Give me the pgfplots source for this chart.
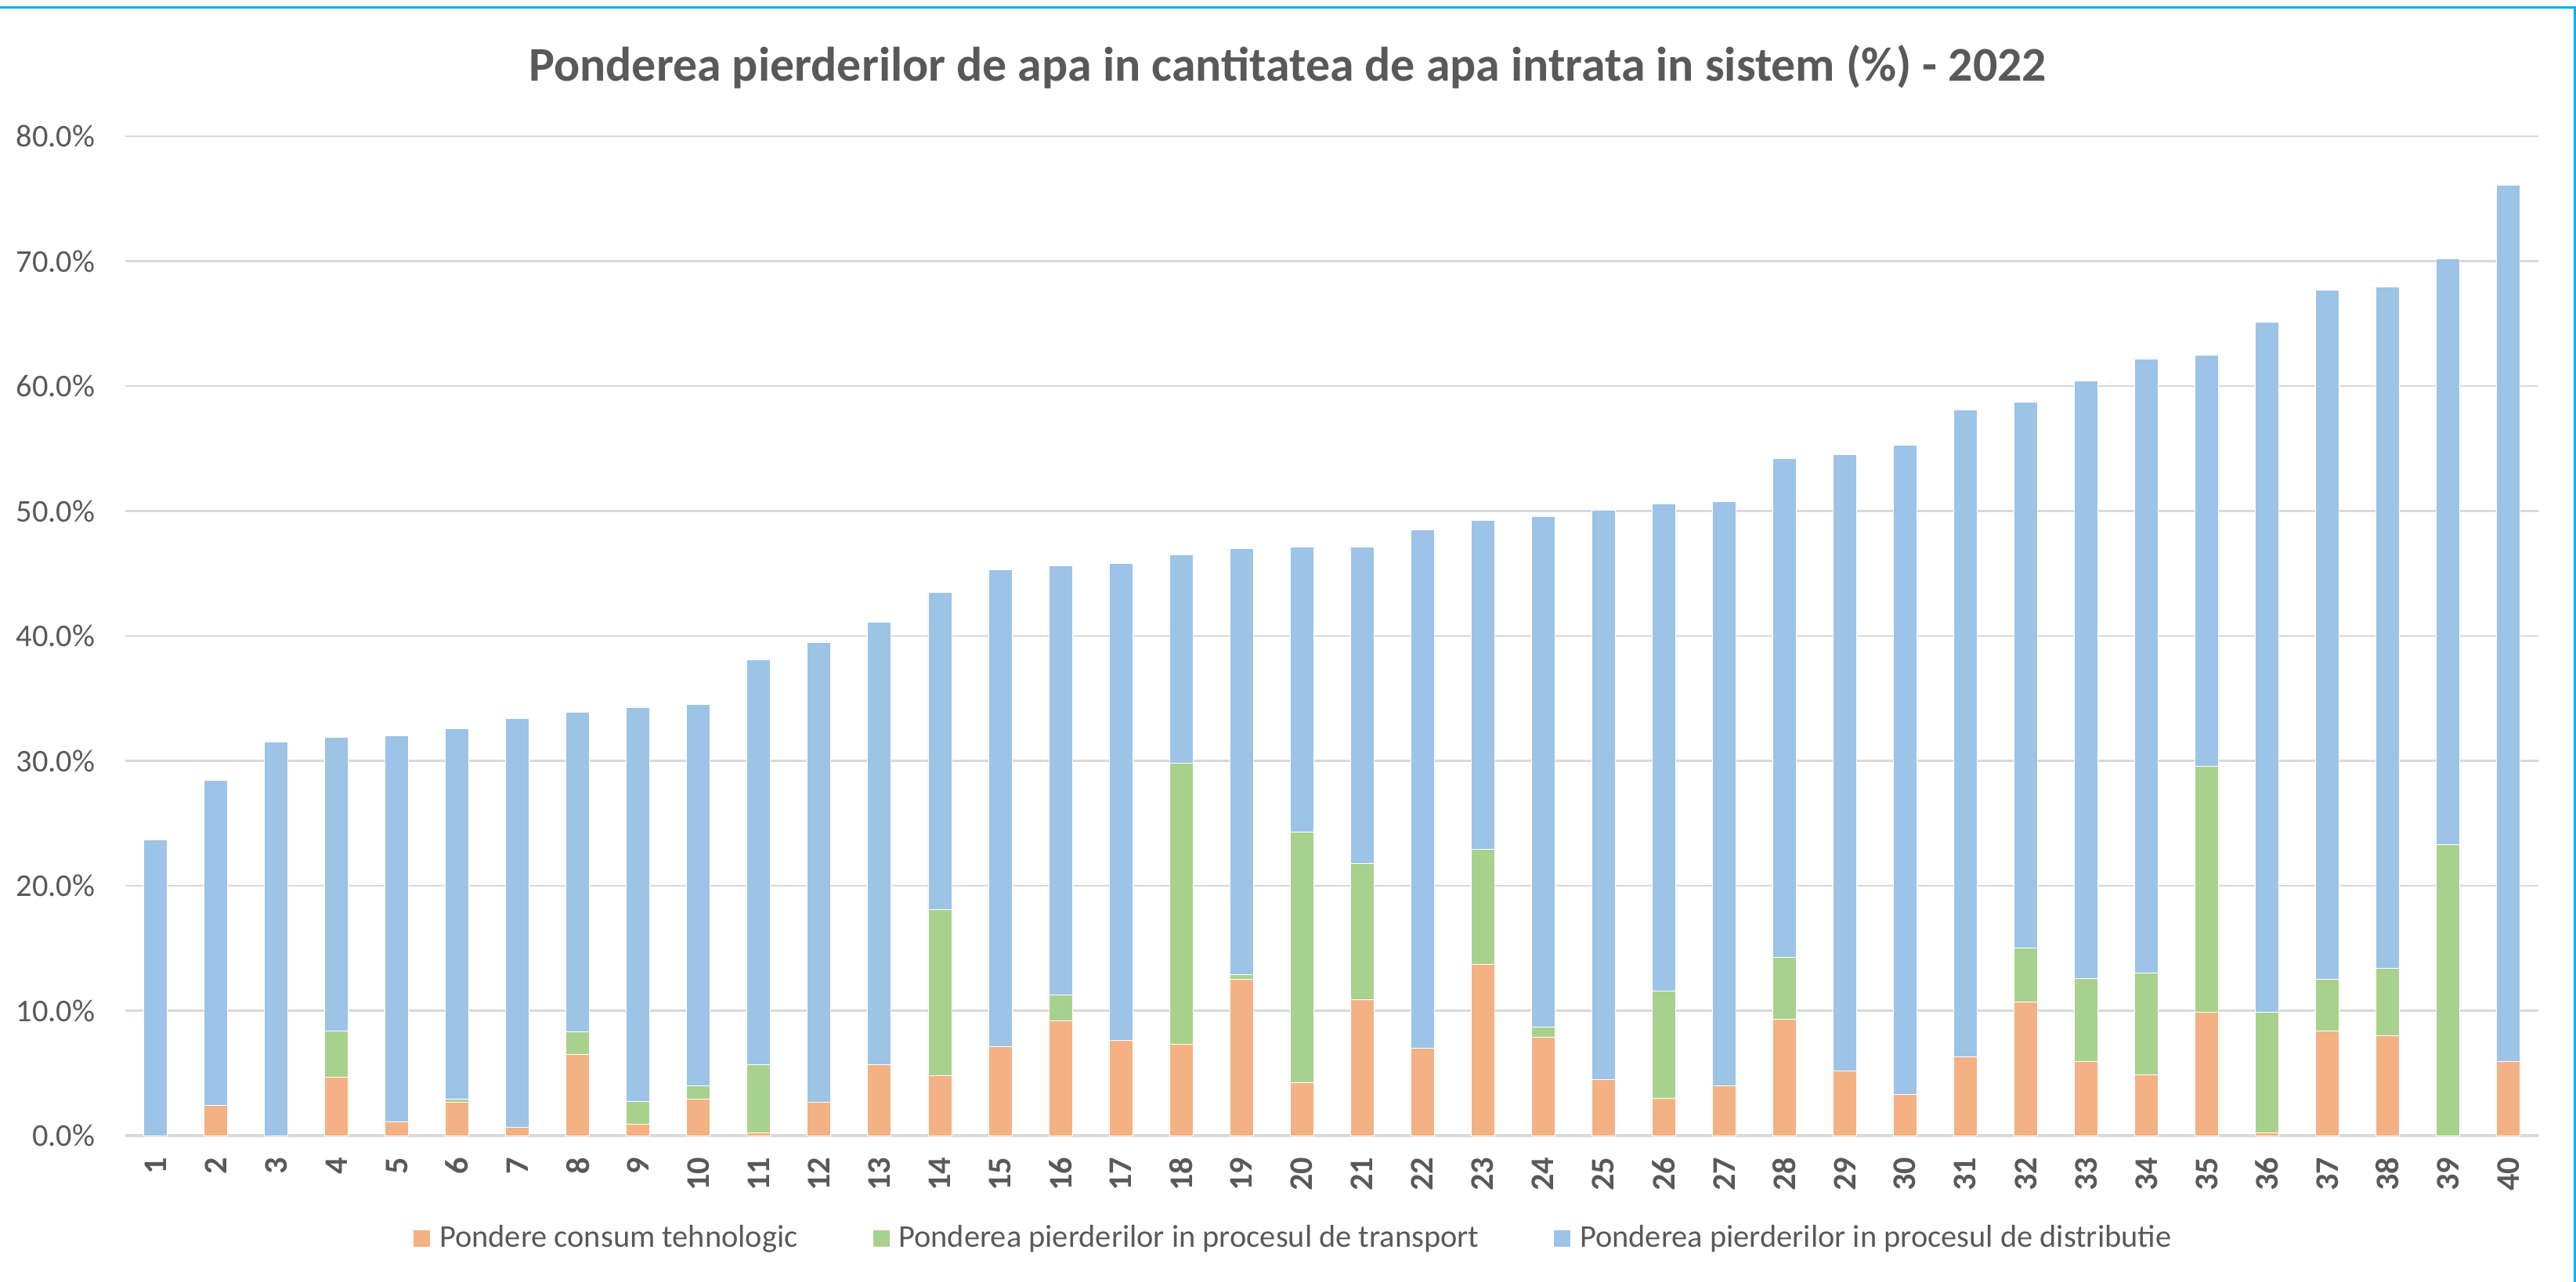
\documentclass[border=0pt]{standalone}
\usepackage{pgfplots}
\pgfplotsset{compat=1.18}
\usepackage{fontspec}
\setmainfont{Carlito}
\definecolor{corange}{HTML}{F4B183}
\definecolor{cgreen}{HTML}{A9D18E}
\definecolor{cblue}{HTML}{9DC3E6}
\definecolor{cgrid}{HTML}{D9D9D9}
\definecolor{ctext}{HTML}{595959}
\definecolor{cframe}{HTML}{00B0F0}
\begin{document}
\begin{tikzpicture}
\useasboundingbox (0,0) rectangle (32.89cm,16.36cm);
\fill[white] (0,0) rectangle (32.89cm,16.36cm);
\draw[cframe, line width=0.03cm] (-0.1cm,16.26cm) -- (32.87cm,16.26cm) -- (32.87cm,-0.1cm);
\node[anchor=base, font=\fontsize{17.6}{21}\selectfont\bfseries, text=ctext] at (16.44cm,15.32cm)
  {Ponderea pierderilor de apa in cantitatea de apa intrata in sistem (\%) - 2022};
\begin{axis}[
  at={(1.60cm,1.86cm)}, anchor=south west,
  width=30.81cm, height=12.76cm, scale only axis,
  ybar stacked, bar width=0.30cm,
  xmin=0.5, xmax=40.5, ymin=0, ymax=80,
  xtick={1,...,40}, ytick={0,10,...,80},
  separate axis lines,
  axis x line*=bottom, axis y line*=left,
  y axis line style={draw=none},
  x axis line style={draw=cgrid, line width=0.035cm},
  major tick length=0pt,
  ymajorgrids, grid style={draw=cgrid, line width=0.028cm},
  /pgf/number format/assume math mode=true,
  yticklabel={\pgfmathprintnumber[fixed,fixed zerofill,precision=1]{\tick}\%},
  yticklabel style={font=\fontsize{11.5}{13}\selectfont, text=ctext, anchor=east, inner sep=0pt, xshift=-0.38cm},
  xticklabel style={font=\fontsize{12}{14}\selectfont\bfseries, text=ctext, yshift=-0.27cm, rotate=90, anchor=east, inner sep=0pt},
  legend columns=3,
  legend style={at={(0.4836,-0.1027)}, anchor=center, draw=none, fill=none,
    font=\fontsize{11.5}{13}\selectfont, text=ctext,
    column sep=0.11cm,
    /tikz/every even column/.append style={column sep=0.95cm},
    nodes={inner sep=0pt}},
  legend image code/.code={\fill[#1] (0cm,-0.11cm) rectangle (0.22cm,0.11cm);},
]
\addplot[fill=corange, draw=white, line width=0.2pt] coordinates {
(1,0) (2,2.4) (3,0) (4,4.7) (5,1.1) (6,2.7) (7,0.65) (8,6.5) (9,0.9) (10,2.9)
(11,0.26) (12,2.7) (13,5.7) (14,4.8) (15,7.1) (16,9.2) (17,7.65) (18,7.3) (19,12.5) (20,4.25)
(21,10.9) (22,7.0) (23,13.7) (24,7.85) (25,4.5) (26,3.0) (27,4.0) (28,9.3) (29,5.2) (30,3.3)
(31,6.3) (32,10.7) (33,5.95) (34,4.9) (35,9.9) (36,0.2) (37,8.4) (38,8.0) (39,0) (40,5.95)};
\addplot[fill=cgreen, draw=white, line width=0.2pt] coordinates {
(1,0) (2,0) (3,0) (4,3.7) (5,0) (6,0.2) (7,0) (8,1.8) (9,1.85) (10,1.1)
(11,5.44) (12,0) (13,0) (14,13.3) (15,0) (16,2.05) (17,0) (18,22.5) (19,0.4) (20,20.05)
(21,10.9) (22,0) (23,9.2) (24,0.85) (25,0) (26,8.6) (27,0) (28,5.0) (29,0) (30,0)
(31,0) (32,4.3) (33,6.65) (34,8.1) (35,19.7) (36,9.7) (37,4.1) (38,5.4) (39,23.3) (40,0)};
\addplot[fill=cblue, draw=white, line width=0.2pt] coordinates {
(1,23.7) (2,26.05) (3,31.5) (4,23.5) (5,30.9) (6,29.7) (7,32.75) (8,25.6) (9,31.55) (10,30.5)
(11,32.4) (12,36.8) (13,35.4) (14,25.4) (15,38.2) (16,34.4) (17,38.15) (18,16.7) (19,34.1) (20,22.8)
(21,25.35) (22,41.5) (23,26.35) (24,40.9) (25,45.6) (26,39.0) (27,46.75) (28,39.9) (29,49.3) (30,52.0)
(31,51.8) (32,43.7) (33,47.8) (34,49.2) (35,32.9) (36,55.2) (37,55.2) (38,54.55) (39,46.9) (40,70.15)};
\legend{Pondere consum tehnologic, Ponderea pierderilor in procesul de transport, Ponderea pierderilor in procesul de distributie}
\end{axis}
\end{tikzpicture}
\end{document}
